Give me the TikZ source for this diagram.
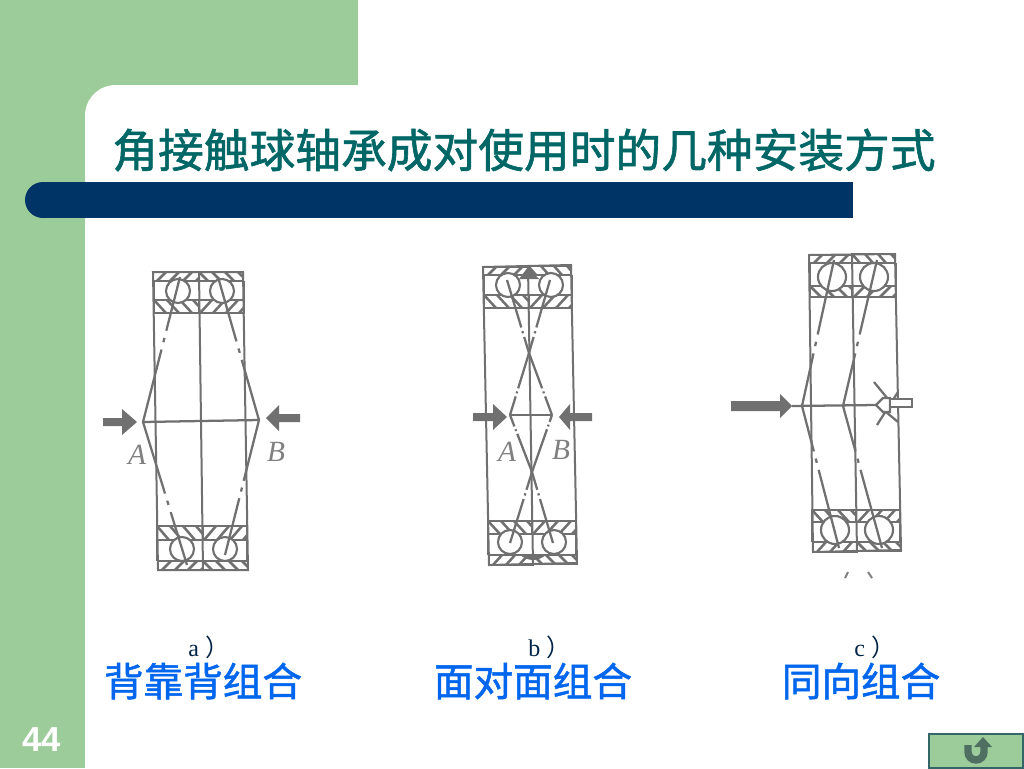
\documentclass[tikz,border=0pt]{standalone}
\usepackage{fontspec}
\setmainfont{Liberation Serif}
\setsansfont{Liberation Sans}
\newfontfamily\cjk[FakeBold=1.3]{Noto Sans CJK SC}
\newfontfamily\cjkplain{Noto Sans CJK SC}
\usetikzlibrary{calc}
\definecolor{slidegreen}{HTML}{9CCC99}
\definecolor{barblue}{HTML}{003366}
\definecolor{titleteal}{HTML}{006666}
\definecolor{nameblue}{HTML}{0066EE}
\definecolor{scangray}{HTML}{707070}
\definecolor{iconbord}{HTML}{336666}
\definecolor{iconfill}{HTML}{4F6F62}
\tikzset{
  ring/.style={draw=scangray, line width=1.5pt},
  hatch/.style={draw=scangray, line width=1.9pt},
  ball/.style={draw=scangray, line width=1.6pt, fill=white},
  contact/.style={draw=scangray, line width=1.7pt},
  load/.style={fill=scangray, draw=none},
  letter/.style={text=gray, font=\itshape\fontsize{22}{22}\selectfont},
  slidetitle/.style={text=titleteal, font=\cjk\fontsize{34.3}{36}\selectfont},
  pairname/.style={text=nameblue, font=\cjk\fontsize{29.7}{30}\selectfont},
  pairtag/.style={anchor=west, inner sep=0pt, text=barblue!70!black, font=\fontsize{18}{18}\selectfont}
}
% hatched band: x1 y1 x2 y2, then the slant of its strokes
\newcommand{\hatchband}[5]{
  \begin{scope}
  \clip (#1,#2) rectangle (#3,#4);
  \foreach \s in {-26,-13,...,65}
    \draw[hatch] (#1+\s,#2) -- (#1+\s+#5,#4);
  \end{scope}
  \draw[ring] (#1,#2) rectangle (#3,#4);
}
% contact line with a gap and a dot in it
\newcommand{\contactline}[3]{
  \draw[contact] (#1) -- ($(#1)!#3!(#2)$)
    ($(#1)!#3+0.05!(#2)$) -- ($(#1)!#3+0.08!(#2)$)
    ($(#1)!#3+0.13!(#2)$) -- (#2);
}
\begin{document}
\begin{tikzpicture}[x=0.75pt, y=-0.75pt]
\useasboundingbox (0,0) rectangle (1024,768);
% slide
\fill[white] (0,0) rectangle (1024,768);
\fill[slidegreen] (0,0) rectangle (358,768);
\fill[white, rounded corners=23pt] (85,768) -- (85,85) [sharp corners] -- (1024,85) -- (1024,768) -- cycle;
\fill[barblue] (43,182) rectangle (853,218);
\fill[barblue] (43,200) circle (18);
\node[slidetitle] (title) at (524,150) {角接触球轴承成对使用时的几种安装方式};
\node[text=white, font=\sffamily\bfseries\fontsize{26}{26}\selectfont] (pagenum) at (42,740) {44};
% bearing a
\draw[ring] (153,272) -- (243,272) -- (248,570) -- (158,570) -- cycle;
\draw[ring] (199,272) -- (203,570);
\hatchband{153}{272}{199}{281}{-9}
\hatchband{199}{272}{243}{281}{9}
\hatchband{154}{300}{199}{313}{12}
\hatchband{199}{300}{244}{313}{-12}
\hatchband{157}{526}{203}{540}{12}
\hatchband{203}{526}{247}{540}{-12}
\hatchband{158}{561}{203}{570}{-9}
\hatchband{203}{561}{248}{570}{9}
\draw[ring] (154,281) -- (154,300) (244,281) -- (244,300) (157,540) -- (157,561) (247,540) -- (247,561);
\draw[ball] (178,291) circle (12);
\draw[ball] (222,291) circle (12);
\draw[ball] (182,549) circle (12);
\draw[ball] (225,549) circle (12);
\coordinate (a1) at (143,422);
\coordinate (a2) at (259,420);
\coordinate (a1t) at (180,277);
\coordinate (a2t) at (218,277);
\coordinate (a1b) at (187,565);
\coordinate (a2b) at (225,555);
\draw[contact] (a1) -- (a2);
\contactline{a1}{a1t}{0.5}
\contactline{a2}{a2t}{0.42}
\contactline{a1}{a1b}{0.5}
\contactline{a2}{a2b}{0.45}
\fill[load] (103,418) -- (122,418) -- (122,409) -- (137,422) -- (122,435) -- (122,426) -- (103,426) -- cycle;
\fill[load] (300,414) -- (279,414) -- (279,405) -- (266,418) -- (279,431) -- (279,422) -- (300,422) -- cycle;
\node[letter] (lettera) at (137,455) {A};
\node[letter] (letterb) at (276,452) {B};
% bearing b
\draw[ring] (483,267) -- (571,265) -- (577,563) -- (489,565) -- cycle;
\draw[ring] (528,267) -- (533,565);
\hatchband{483}{267}{528}{275}{-8}
\hatchband{528}{266}{571}{275}{8}
\hatchband{484}{295}{529}{308}{12}
\hatchband{529}{295}{572}{308}{-12}
\hatchband{488}{521}{532}{534}{12}
\hatchband{532}{521}{576}{534}{-12}
\hatchband{489}{555}{533}{565}{-9}
\hatchband{533}{555}{577}{564}{9}
\draw[ring] (484,275) -- (484,295) (572,275) -- (572,295) (488,534) -- (488,555) (576,534) -- (576,555);
\draw[ball] (508,285) circle (12);
\draw[ball] (551,285) circle (12);
\draw[ball] (510,542) circle (12);
\draw[ball] (554,542) circle (12);
\fill[load] (519,279) -- (528,267) -- (539,279) -- cycle;
\fill[load] (519,554) .. controls (528,562) and (538,562) .. (547,554) -- cycle;
\coordinate (b1) at (510,415);
\coordinate (b2) at (552,415);
\coordinate (bx1) at (529,353);
\coordinate (bx2) at (532,472);
\coordinate (b1t) at (550,280);
\coordinate (b2t) at (507,280);
\coordinate (b1b) at (553,543);
\coordinate (b2b) at (510,543);
\draw[contact] (b1) -- (b2);
\contactline{b1}{bx1}{0.3}
\contactline{b2}{bx1}{0.3}
\contactline{bx1}{b1t}{0.22}
\contactline{bx1}{b2t}{0.22}
\contactline{b1}{bx2}{0.2}
\contactline{b2}{bx2}{0.12}
\contactline{bx2}{b1b}{0.25}
\contactline{bx2}{b2b}{0.25}
\fill[load] (473,413) -- (493,413) -- (493,404) -- (507,417) -- (493,430) -- (493,421) -- (473,421) -- cycle;
\fill[load] (592,413) -- (570,413) -- (570,404) -- (559,417) -- (570,430) -- (570,421) -- (592,421) -- cycle;
\node[letter] (letterc) at (507,452) {A};
\node[letter] (letterd) at (561,450) {B};
% bearing c
\draw[ring] (809,255) -- (895,254) -- (901,550) -- (813,552) -- cycle;
\draw[ring] (852,255) -- (857,552);
\hatchband{809}{255}{852}{263}{-8}
\hatchband{852}{254}{895}{263}{8}
\hatchband{810}{286}{852}{297}{11}
\hatchband{852}{286}{896}{297}{-11}
\hatchband{812}{510}{856}{522}{11}
\hatchband{856}{510}{900}{522}{-11}
\hatchband{813}{542}{857}{552}{-9}
\hatchband{857}{542}{901}{551}{9}
\draw[ring] (810,263) -- (810,286) (896,263) -- (896,286) (812,522) -- (812,542) (900,522) -- (900,542);
\draw[ball] (832,277) circle (14);
\draw[ball] (874,277) circle (14);
\draw[ball] (835,530) circle (14);
\draw[ball] (879,530) circle (14);
\coordinate (c1) at (802,406);
\coordinate (c2) at (843,406);
\coordinate (c3) at (876,405);
\coordinate (c0) at (792,406);
\coordinate (c1t) at (834,260);
\coordinate (c2t) at (877,260);
\coordinate (c1b) at (839,548);
\coordinate (c2b) at (882,548);
\draw[contact] (c0) -- (c3);
\contactline{c1}{c1t}{0.36}
\contactline{c2}{c2t}{0.36}
\contactline{c1}{c1b}{0.32}
\contactline{c2}{c2b}{0.32}
\fill[load] (731,401) -- (780,401) -- (780,394) -- (792,406) -- (780,418) -- (780,411) -- (731,411) -- cycle;
\draw[contact] (874,382) -- (892,404) (898,392) -- (877,425) (886,412) -- (898,422);
\draw[contact, fill=white] (876,405) -- (883,398) -- (890,398) -- (890,412) -- (883,412) -- cycle;
\draw[ring, fill=white] (890,399) rectangle (912,407);
\draw[ring, gray] (845,578) -- (848,572) (868,572) -- (872,578);
% names
\node[pairtag] (taga) at (188,647) {a\hspace{5pt}{\cjkplain ）}};
\node[pairtag] (tagb) at (528,647) {b\hspace{5pt}{\cjkplain ）}};
\node[pairtag] (tagc) at (854,647) {c\hspace{5pt}{\cjkplain ）}};
\node[pairname] (namea) at (203,681) {背靠背组合};
\node[pairname] (nameb) at (533,681) {面对面组合};
\node[pairname] (namec) at (861,681) {同向组合};
% return button
\draw[fill=slidegreen, draw=iconbord, line width=1.2pt] (929,734) rectangle (1023,768);
\draw[iconfill, line width=5.5pt] (968,745) -- (968,752) arc[start angle=180, end angle=0, x radius=8, y radius=8] -- (984,745);
\fill[iconfill] (974,747) -- (983,737) -- (992,747) -- cycle;
\end{tikzpicture}
\end{document}
